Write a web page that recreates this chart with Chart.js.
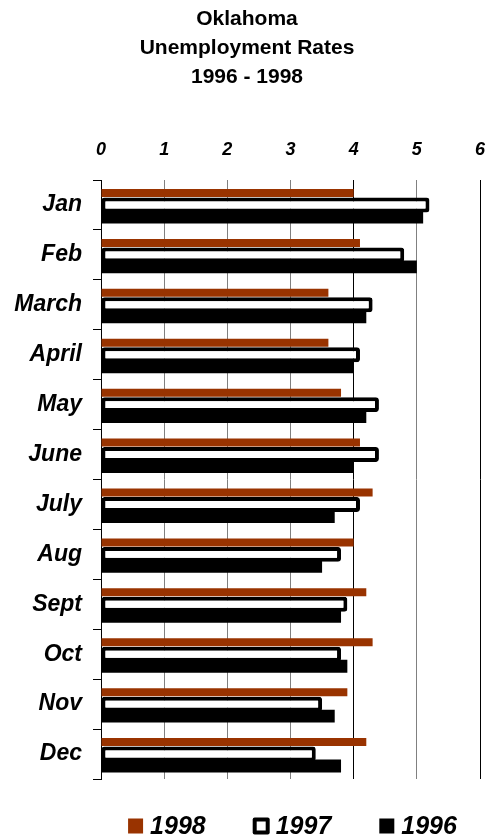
<!DOCTYPE html>
<html>
<head>
<meta charset="utf-8">
<script src="https://cdn.jsdelivr.net/npm/chart.js@4/dist/chart.umd.min.js"></script>
<style>
  html, body { margin: 0; padding: 0; background: #fff; }
  canvas { display: block; }
</style>
</head>
<body>
<canvas id="c" width="486" height="836"></canvas>
<script>
const months = ['Jan','Feb','March','April','May','June','July','Aug','Sept','Oct','Nov','Dec'];
const seriesNames = ['1998','1997','1996'];
const rates1998 = [4.0,4.1,3.6,3.6,3.8,4.1,4.3,4.0,4.2,4.3,3.9,4.2];
const rates1997 = [5.2,4.8,4.3,4.1,4.4,4.4,4.1,3.8,3.9,3.8,3.5,3.4];
const rates1996 = [5.1,5.0,4.2,4.0,4.2,4.0,3.7,3.5,3.8,3.9,3.7,3.8];
const axisTicks = [0,1,2,3,4,5,6];
const titleLines = ['Oklahoma','Unemployment Rates','1996 - 1998'];

const FAMILY = '"Liberation Sans", Arial, Helvetica, sans-serif';
Chart.defaults.font.family = FAMILY;
Chart.defaults.color = '#000';

const customLegend = {
  id: 'customLegend',
  afterDraw(chart) {
    const ctx = chart.ctx;
    ctx.save();
    ctx.font = 'italic bold 25px ' + FAMILY;
    const box = 15, gapText = 7, gapItem = 48;
    const items = chart.data.datasets.map(ds => ({
      text: ds.label, bg: ds.backgroundColor, bw: ds.borderWidth || 0,
      w: ctx.measureText(ds.label).width
    }));
    const total = items.reduce((s, it) => s + box + gapText + it.w, 0) + gapItem * (items.length - 1);
    let x = 292.5 - total / 2;
    const yc = 826;
    items.forEach(it => {
      if (it.bw > 0) {
        ctx.fillStyle = '#000';
        ctx.beginPath();
        ctx.roundRect(x - 1, yc - 8.5, box + 2, box + 2, 2);
        ctx.fill();
        ctx.fillStyle = it.bg;
        ctx.fillRect(x + 3, yc - 4.5, box - 6, box - 6);
      } else {
        ctx.fillStyle = it.bg;
        ctx.fillRect(x, yc - 7.5, box, box);
      }
      ctx.fillStyle = '#000';
      ctx.textBaseline = 'middle';
      ctx.textAlign = 'left';
      ctx.fillText(it.text, x + box + gapText, yc + 1);
      x += box + gapText + it.w + gapItem;
    });
    ctx.restore();
  }
};

new Chart(document.getElementById('c'), {
  type: 'bar',
  data: {
    labels: months,
    datasets: [
      { label: seriesNames[0], data: rates1998, backgroundColor: '#993300', borderWidth: 0, barPercentage: 0.67 },
      { label: seriesNames[1], data: rates1997, backgroundColor: '#ffffff', borderColor: '#000000', borderWidth: 4, borderSkipped: false, borderRadius: 3, barPercentage: 1.25 },
      { label: seriesNames[2], data: rates1996, backgroundColor: '#000000', borderWidth: 0, barPercentage: 1.08 }
    ]
  },
  options: {
    indexAxis: 'y',
    responsive: false,
    animation: false,
    devicePixelRatio: 1,
    layout: { padding: { left: 14, right: 6, top: 0, bottom: 57 } },
    datasets: { bar: { categoryPercentage: 0.72 } },
    plugins: {
      legend: { display: false },
      tooltip: { enabled: false },
      title: {
        display: true,
        text: titleLines,
        color: '#000',
        font: { size: 21, weight: 'bold', lineHeight: 29 / 21 },
        padding: { top: 5, bottom: 28.4 }
      }
    },
    scales: {
      x: {
        position: 'top',
        min: axisTicks[0],
        max: axisTicks[axisTicks.length - 1],
        afterBuildTicks(scale) { scale.ticks = axisTicks.map(v => ({ value: v })); },
        afterFit(scale) { scale.paddingLeft = 0; scale.paddingRight = 0; },
        ticks: {
          padding: 19,
          color: '#000',
          font: { size: 18, weight: 'bold', style: 'italic' }
        },
        grid: {
          drawTicks: false,
          color: c => (c.tick && (c.tick.value === 4 || c.tick.value === 6)) ? '#000000' : '#808080',
          lineWidth: 1
        },
        border: { display: false }
      },
      y: {
        afterFit(scale) { scale.width = 87; },
        ticks: {
          padding: 11,
          color: '#000',
          font: { size: 23, weight: 'bold', style: 'italic' }
        },
        grid: { drawOnChartArea: false, drawTicks: true, tickLength: 8, color: '#000', offset: true },
        border: { display: true, color: '#000', width: 1 }
      }
    }
  },
  plugins: [customLegend]
});
</script>
</body>
</html>
